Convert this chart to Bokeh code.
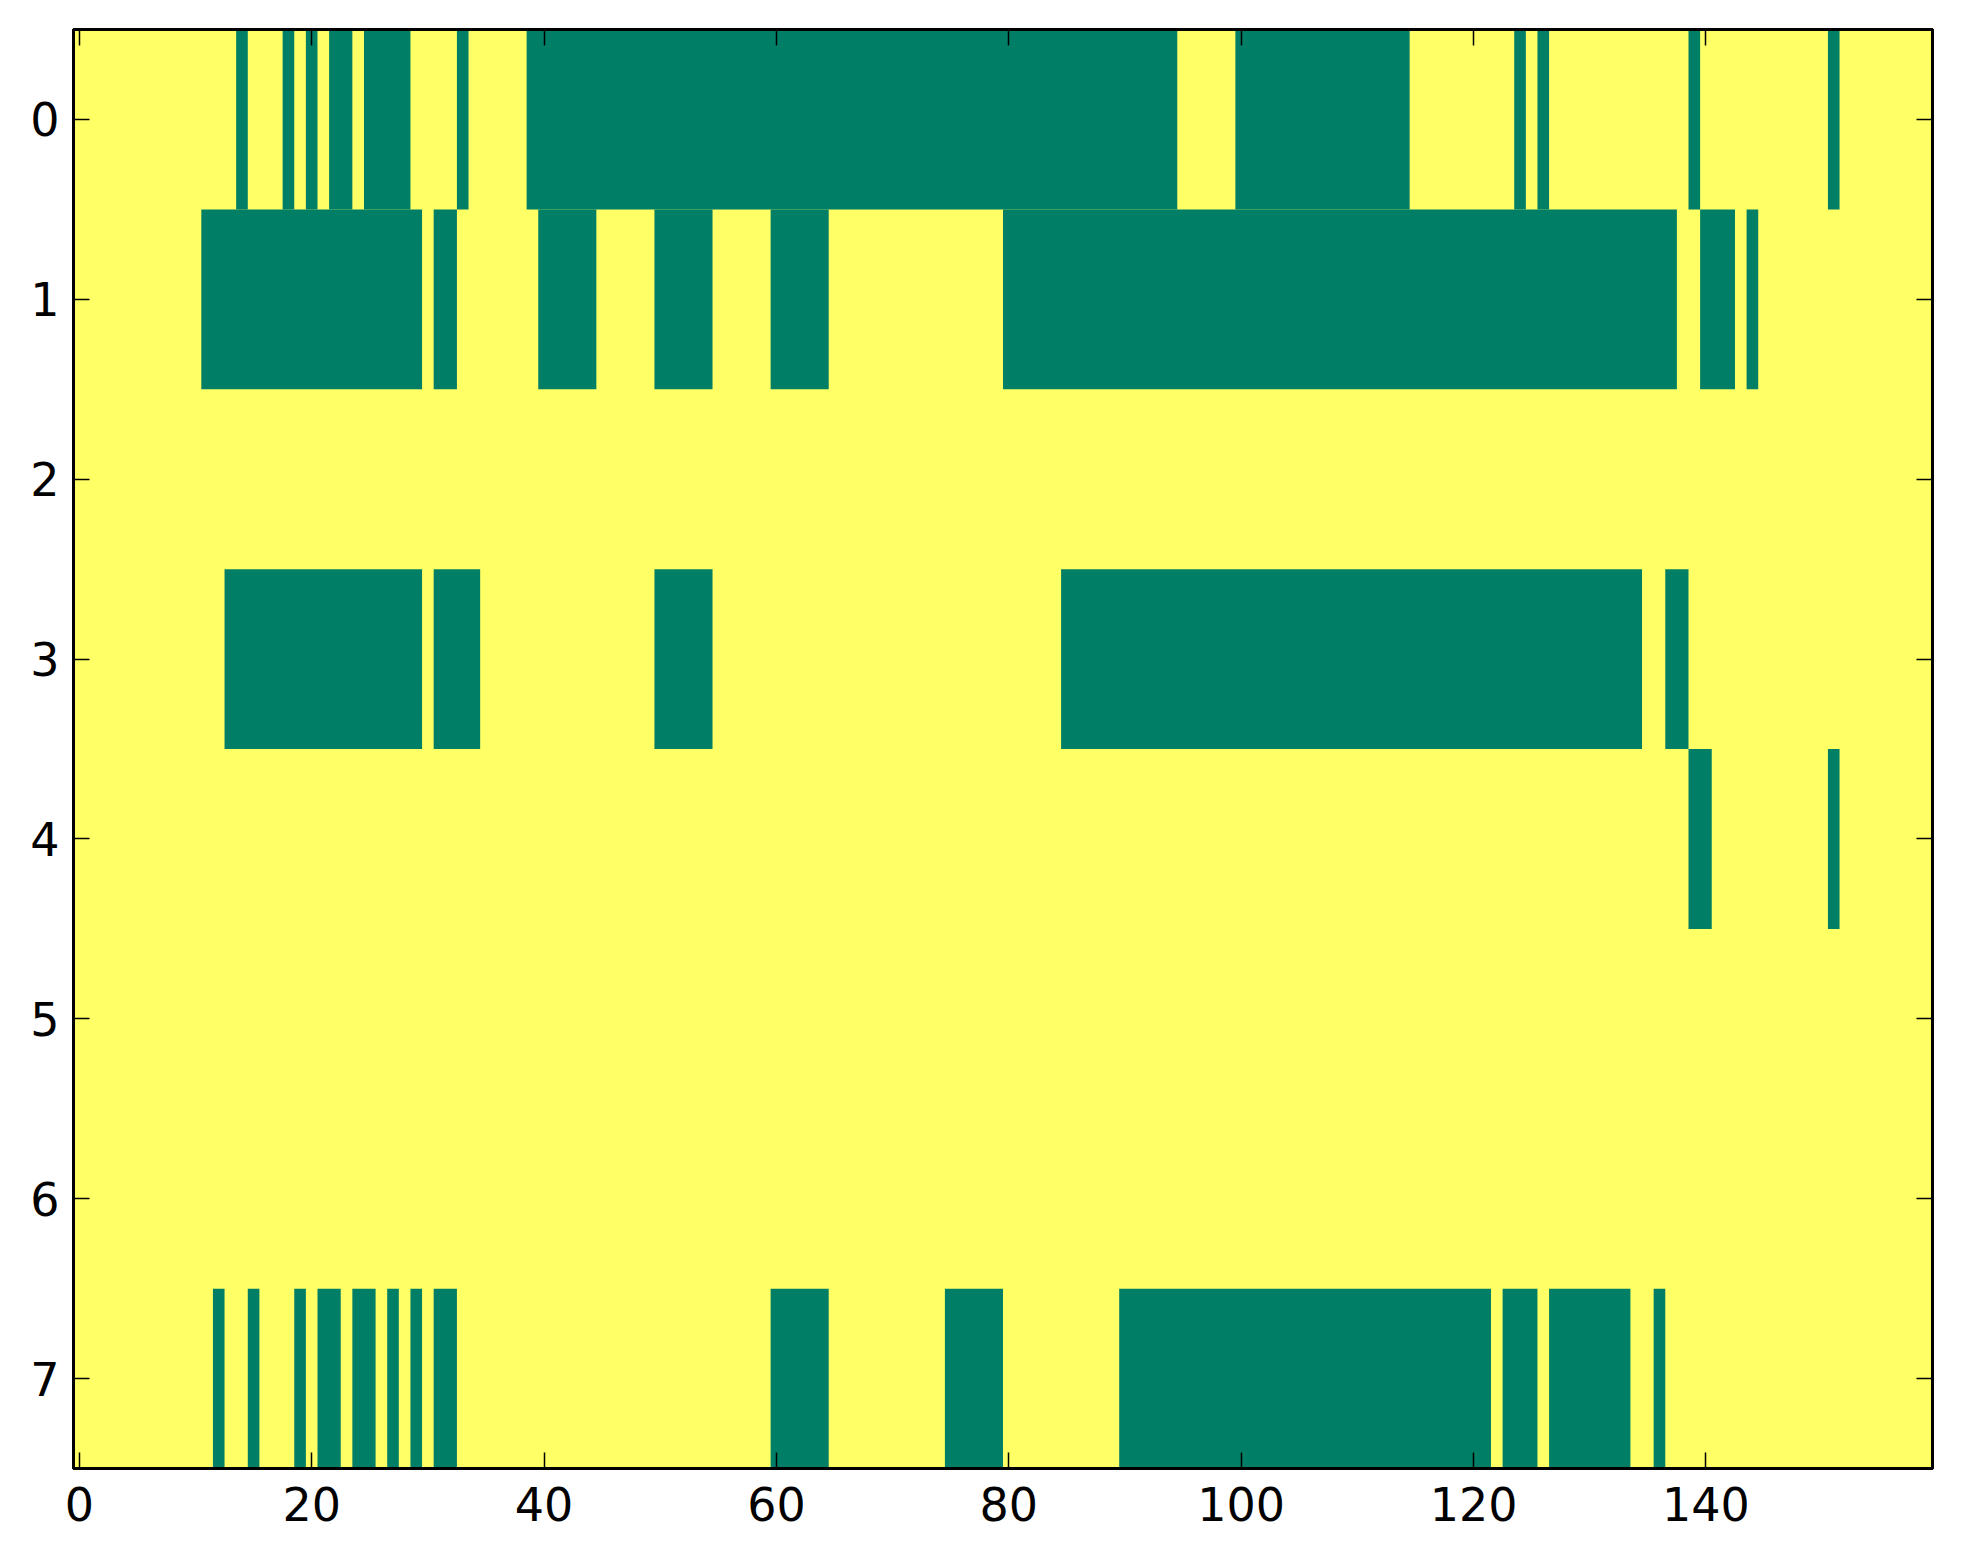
import numpy as np
from bokeh.plotting import figure
from bokeh.models import Range1d, LinearAxis, FixedTicker, ColumnDataSource
from bokeh.embed import file_html
from bokeh.resources import INLINE

n_cols = 160
n_rows = 8
x_ticks = [0, 20, 40, 60, 80, 100, 120, 140]
y_ticks = [0, 1, 2, 3, 4, 5, 6, 7]

# green (value 0) runs per row, inclusive column ranges; everything else is yellow (value 1)
row0_runs = [(14, 14), (18, 18), (20, 20), (22, 23), (25, 28), (33, 33), (39, 94),
             (100, 114), (124, 124), (126, 126), (139, 139), (151, 151)]
row1_runs = [(11, 29), (31, 32), (40, 44), (50, 54), (60, 64), (80, 137), (140, 142), (144, 144)]
row2_runs = []
row3_runs = [(13, 29), (31, 34), (50, 54), (85, 134), (137, 138)]
row4_runs = [(139, 140), (151, 151)]
row5_runs = []
row6_runs = []
row7_runs = [(12, 12), (15, 15), (19, 19), (21, 22), (24, 25), (27, 27), (29, 29), (31, 32),
             (60, 64), (75, 79), (90, 121), (123, 125), (127, 133), (136, 136)]

all_runs = [row0_runs, row1_runs, row2_runs, row3_runs, row4_runs, row5_runs, row6_runs, row7_runs]

GREEN = "#007f66"
YELLOW = "#ffff66"

left, right, top, bottom = [], [], [], []
for r, runs in enumerate(all_runs):
    for s, e in runs:
        left.append(s - 0.5)
        right.append(e + 0.5)
        top.append(r - 0.5)
        bottom.append(r + 0.5)
src = ColumnDataSource(dict(left=left, right=right, top=top, bottom=bottom))

p = figure(frame_width=1859, frame_height=1439,
           x_range=Range1d(-0.5, n_cols - 0.5), y_range=Range1d(n_rows - 0.5, -0.5),
           output_backend="svg", toolbar_location=None,
           min_border_left=73, min_border_top=29, min_border_right=12, min_border_bottom=75,
           background_fill_color=YELLOW, border_fill_color="white")
p.grid.visible = False
p.outline_line_color = "black"
p.outline_line_width = 3

p.quad(left="left", right="right", top="top", bottom="bottom", source=src,
       fill_color=GREEN, line_color=None)

font = "DejaVu Sans"
fs = "46px"

def style(ax, show_labels, ticks):
    ax.axis_line_color = "black"
    ax.axis_line_width = 3
    ax.major_tick_in = 16
    ax.major_tick_out = 0
    ax.major_tick_line_width = 1.5
    ax.major_tick_line_color = "black"
    ax.minor_tick_line_color = None
    ax.major_label_text_font = font
    ax.major_label_text_color = "black"
    ax.major_label_text_font_size = fs
    if not show_labels:
        ax.major_label_overrides = {t: "" for t in ticks}
        ax.major_label_standoff = 0

p.xaxis.ticker = FixedTicker(ticks=x_ticks)
p.yaxis.ticker = FixedTicker(ticks=y_ticks)
for ax in p.xaxis:
    style(ax, True, x_ticks)
    ax.major_label_standoff = 18
for ax in p.yaxis:
    style(ax, True, y_ticks)
    ax.major_label_standoff = 14

top_ax = LinearAxis(ticker=FixedTicker(ticks=x_ticks))
style(top_ax, False, x_ticks)
p.add_layout(top_ax, "above")
right_ax = LinearAxis(ticker=FixedTicker(ticks=y_ticks))
style(right_ax, False, y_ticks)
p.add_layout(right_ax, "right")

open("out.html", "w").write(file_html(p, INLINE))
